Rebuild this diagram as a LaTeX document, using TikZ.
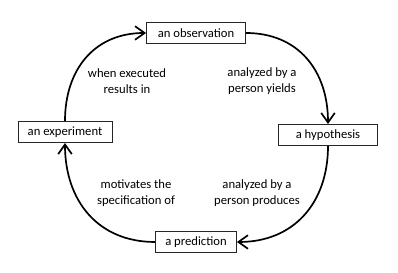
\documentclass[tikz,border=0pt]{standalone}
\usepackage{fontspec}
\setmainfont{Carlito}
\usetikzlibrary{arrows.meta}

\tikzset{
  stage/.style={draw=black!85, line width=0.6pt, fill=white, minimum height=0.53cm, inner sep=1pt},
  cyc/.style={line width=1.2pt, looseness=1.1, -{Straight Barb[length=2.4mm, width=3.4mm, line width=1.2pt]}},
  lbl/.style={align=center, font=\fontsize{9}{11}\selectfont}
}

\begin{document}
\begin{tikzpicture}[font=\fontsize{9}{10}\selectfont]
  \useasboundingbox (0,0) rectangle (9.95,6.825);
  \node[stage, minimum width=2.475cm] (obs) at (4.9,6.0) {an observation};
  \node[stage, minimum width=2.475cm] (hyp) at (8.2,3.45) {a hypothesis};
  \node[stage, minimum width=2.025cm] (pred) at (4.9,0.775) {a prediction};
  \node[stage, minimum width=2.35cm] (expt) at (1.625,3.525) {an experiment};
  % the cycle, clockwise from the top
  \draw[cyc] (obs.east) to[out=0, in=90] (hyp.north);
  \draw[cyc] (hyp.south) to[out=-90, in=0] (pred.east);
  \draw[cyc] (pred.west) to[out=180, in=-90] (expt.south);
  \draw[cyc] (expt.north) to[out=90, in=180] (obs.west);
  \node[lbl] (l1) at (3.175,4.8) {when executed\\results in};
  \node[lbl] (l2) at (6.55,4.8) {analyzed by a\\person yields};
  \node[lbl] (l3) at (3.4,2.0) {motivates the\\specification of};
  \node[lbl] (l4) at (6.425,2.0) {analyzed by a\\person produces};
\end{tikzpicture}
\end{document}
